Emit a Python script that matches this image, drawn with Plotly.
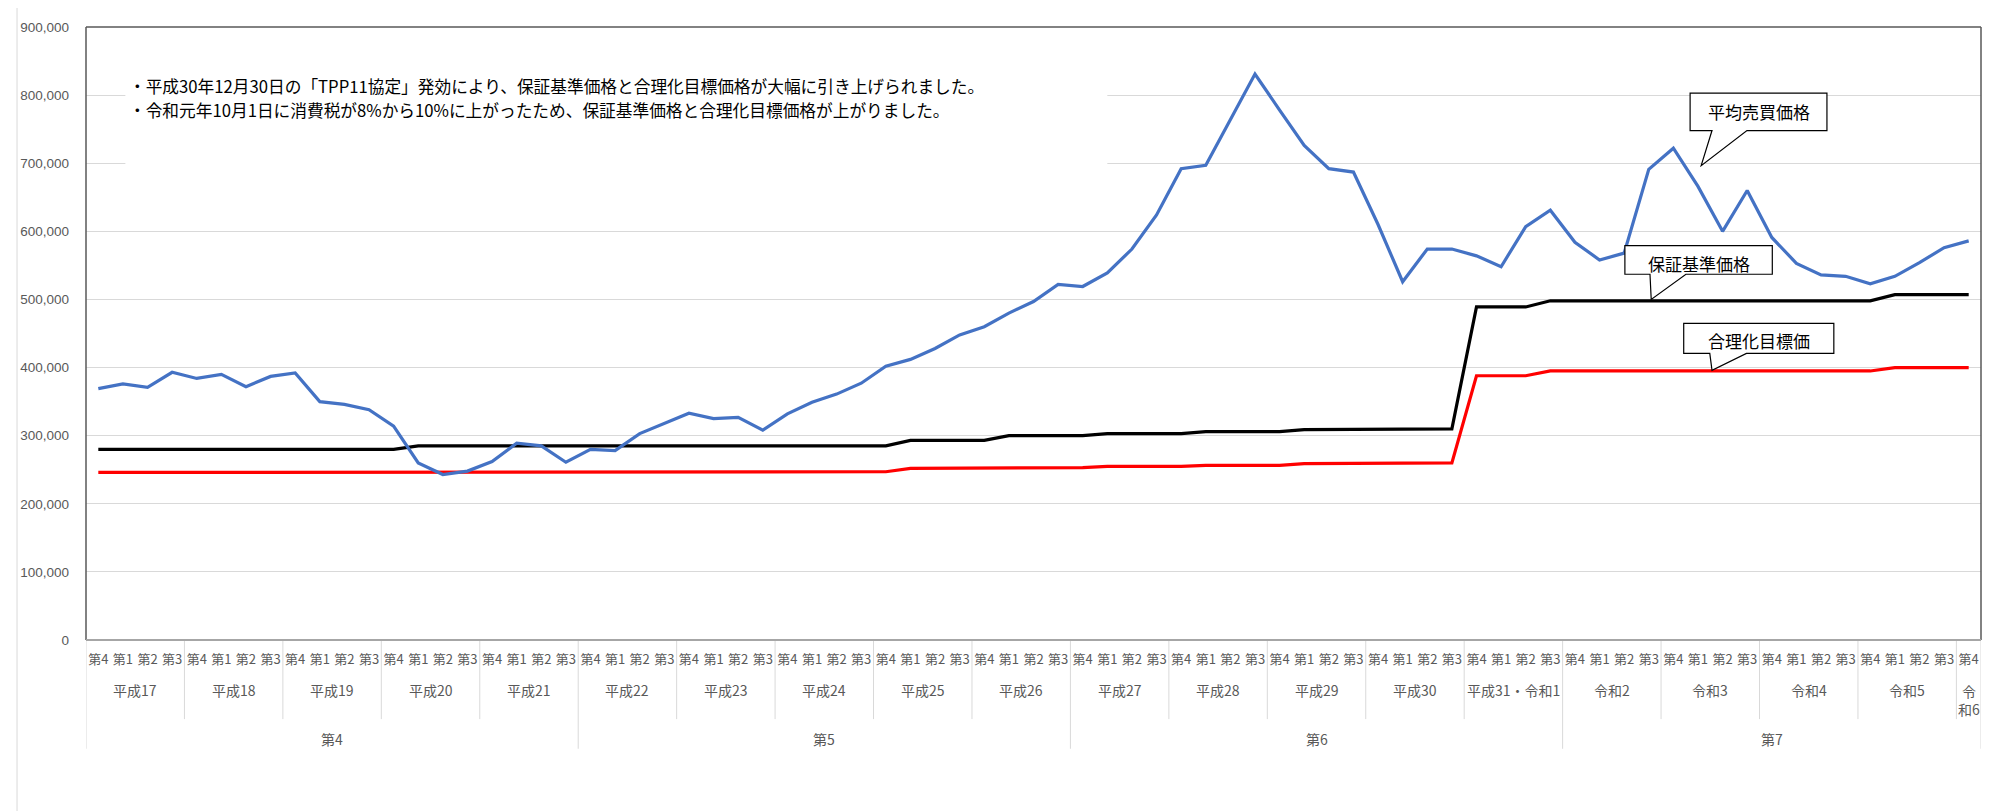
import plotly.graph_objects as go

# ---------------- data ----------------
year_labels = ["平成17", "平成18", "平成19", "平成20", "平成21", "平成22", "平成23",
               "平成24", "平成25", "平成26", "平成27", "平成28", "平成29", "平成30",
               "平成31・令和1", "令和2", "令和3", "令和4", "令和5", "令和6"]
quarters_in_year = [4, 4, 4, 4, 4, 4, 4, 4, 4, 4, 4, 4, 4, 4, 4, 4, 4, 4, 4, 1]
quarter_names = ["第4", "第1", "第2", "第3"]
period_labels = ["第4", "第5", "第6", "第7"]
years_in_period = [5, 5, 5, 5]

avg_price = [369000, 376000, 371000, 393000, 384000, 390000, 372000, 387000, 392000, 350000,
             346000, 338000, 314000, 260000, 243000, 248000, 262000, 289000, 285000, 261000,
             280000, 278000, 303000, 318000, 333000, 325000, 327000, 308000, 332000, 349000,
             361000, 377000, 402000, 412000, 428000, 448000, 460000, 480000, 497000, 522000,
             519000, 539000, 574000, 624000, 692000, 697000, 764000, 831000, 778000, 726000,
             692000, 687000, 610000, 526000, 574000, 574000, 564000, 548000, 607000, 631000,
             584000, 558000, 568000, 691000, 722000, 666000, 600000, 660000, 591000, 553000,
             536000, 534000, 523000, 534000, 554000, 576000, 586000]

guarantee_price = [280000, 280000, 280000, 280000, 280000, 280000, 280000, 280000, 280000, 280000,
                   280000, 280000, 280000, 285000, 285000, 285000, 285000, 285000, 285000, 285000,
                   285000, 285000, 285000, 285000, 285000, 285000, 285000, 285000, 285000, 285000,
                   285000, 285000, 285000, 293000, 293000, 293000, 293000, 300000, 300000, 300000,
                   300000, 303000, 303000, 303000, 303000, 306000, 306000, 306000, 306000, 309000,
                   309000, 309000, 309000, 310000, 310000, 310000, 489000, 489000, 489000, 498000,
                   498000, 498000, 498000, 498000, 498000, 498000, 498000, 498000, 498000, 498000,
                   498000, 498000, 498000, 507000, 507000, 507000, 507000]

target_price = [246000, 246000, 246000, 246000, 246000, 246000, 246000, 246000, 246000, 246000,
                246000, 246000, 246000, 247000, 247000, 247000, 247000, 247000, 247000, 247000,
                247000, 247000, 247000, 247000, 247000, 247000, 247000, 247000, 247000, 247000,
                247000, 247000, 247000, 252000, 252000, 252000, 252000, 253000, 253000, 253000,
                253000, 255000, 255000, 255000, 255000, 256500, 256500, 256500, 256500, 259000,
                259000, 259000, 259000, 260000, 260000, 260000, 388000, 388000, 388000, 395000,
                395000, 395000, 395000, 395000, 395000, 395000, 395000, 395000, 395000, 395000,
                395000, 395000, 395000, 400000, 400000, 400000, 400000]

note_lines = ["・平成30年12月30日の「TPP11協定」発効により、保証基準価格と合理化目標価格が大幅に引き上げられました。",
              "・令和元年10月1日に消費税が8%から10%に上がったため、保証基準価格と合理化目標価格が上がりました。"]

# ---------------- category structure ----------------
quarter_labels = []
year_spans = []
for yl, nq in zip(year_labels, quarters_in_year):
    start = len(quarter_labels)
    quarter_labels.extend(quarter_names[:nq])
    year_spans.append((start, len(quarter_labels) - 1))
xs = list(range(len(quarter_labels)))

period_spans = []
yi = 0
for n in years_in_period:
    period_spans.append((year_spans[yi][0], year_spans[yi + n - 1][1]))
    yi += n

# ---------------- figure ----------------
W, H = 1990, 811
ML, MR, MT, MB = 77, 17, 12, 179
PH = H - MT - MB
PLOT_BOTTOM = H - MB


def py(p):
    """pixel row below the plot -> paper y"""
    return (PLOT_BOTTOM - p) / PH


CJK = "Noto Sans CJK JP"
GRAY = "#595959"

fig = go.Figure()
fig.add_trace(go.Scatter(x=xs, y=guarantee_price, mode="lines", name="保証基準価格",
                         line=dict(color="#000000", width=3.2)))
fig.add_trace(go.Scatter(x=xs, y=target_price, mode="lines", name="合理化目標価格",
                         line=dict(color="#FF0000", width=3.2)))
fig.add_trace(go.Scatter(x=xs, y=avg_price, mode="lines", name="平均売買価格",
                         line=dict(color="#4472C4", width=3.2)))

shapes = []
# white note box covering gridlines
shapes.append(dict(type="rect", xref="x", yref="y", x0=1.1, x1=41.0, y0=671000, y1=867000,
                   fillcolor="white", line=dict(width=0), layer="between"))
# plot borders
for (x0, y0, x1, y1) in [(0, 0, 0, 1), (0, 1, 1, 1), (1, 0, 1, 1)]:
    shapes.append(dict(type="line", xref="paper", yref="paper", x0=x0, y0=y0, x1=x1, y1=y1,
                       line=dict(color="#595959", width=1.5)))
# year separators
period_bounds = set()
for s, e in period_spans:
    period_bounds.add(s - 0.5)
    period_bounds.add(e + 0.5)
for s, e in year_spans:
    b = e + 0.5
    if b not in period_bounds:
        shapes.append(dict(type="line", xref="x", yref="paper", x0=b, x1=b, y0=0, y1=py(712),
                           line=dict(color="#D9D9D9", width=1)))
for b in sorted(period_bounds):
    shapes.append(dict(type="line", xref="x", yref="paper", x0=b, x1=b, y0=0, y1=py(742),
                       line=dict(color="#D9D9D9", width=1)))
# bottom axis line
shapes.append(dict(type="line", xref="paper", yref="paper", x0=0, x1=1, y0=0, y1=0,
                   line=dict(color="#A6A6A6", width=2)))
# outer chart border
for px in (8, 1983):
    xp = (px - ML) / (W - ML - MR)
    shapes.append(dict(type="line", xref="paper", yref="paper", x0=xp, x1=xp, y0=-0.4, y1=1.1,
                       line=dict(color="#D9D9D9", width=1)))


def callout(bx0, bx1, ytop, ybot, tb0, tb1, tipx, tipy):
    path = (f"M {bx0},{ytop} L {bx1},{ytop} L {bx1},{ybot} L {tb1},{ybot} "
            f"L {tipx},{tipy} L {tb0},{ybot} L {bx0},{ybot} Z")
    return dict(type="path", xref="x", yref="y", path=path, fillcolor="white",
                line=dict(color="#000000", width=1.2), layer="above")


shapes.append(callout(64.68, 70.24, 803000, 748000, 65.57, 66.99, 65.13, 696500))
shapes.append(callout(62.03, 68.02, 579000, 537000, 63.05, 64.51, 63.10, 500000))
shapes.append(callout(64.42, 70.52, 464900, 420800, 65.48, 66.97, 65.57, 396000))

annotations = []
annotations.append(dict(x=67.46, y=776000, xref="x", yref="y", text="平均売買価格", showarrow=False,
                        font=dict(family=CJK, size=17, color="#000000")))
annotations.append(dict(x=65.03, y=553000, xref="x", yref="y", text="保証基準価格", showarrow=False,
                        font=dict(family=CJK, size=17, color="#000000")))
annotations.append(dict(x=67.49, y=439000, xref="x", yref="y", text="合理化目標価", showarrow=False,
                        font=dict(family=CJK, size=17, color="#000000")))

# note text
for line, yv in zip(note_lines, [813000, 778500]):
    annotations.append(dict(x=1.18, y=yv, xref="x", yref="y", text=line, showarrow=False,
                            xanchor="left", yanchor="middle",
                            font=dict(family=CJK, size=16.7, color="#000000")))

# year labels
for yl, (s, e) in zip(year_labels, year_spans):
    if s == e:
        annotations.append(dict(x=s, y=py(692.5), xref="x", yref="paper",
                                text="<br>".join([yl[:1], yl[1:]]), showarrow=False,
                                yanchor="middle", font=dict(family=CJK, size=14, color=GRAY)))
    else:
        annotations.append(dict(x=(s + e) / 2, y=py(682.5), xref="x", yref="paper", text=yl,
                                showarrow=False, yanchor="middle",
                                font=dict(family=CJK, size=14, color=GRAY)))
# period labels
for pl, (s, e) in zip(period_labels, period_spans):
    annotations.append(dict(x=(s + e) / 2, y=py(732.5), xref="x", yref="paper", text=pl,
                            showarrow=False, yanchor="middle",
                            font=dict(family=CJK, size=14, color=GRAY)))

fig.update_layout(
    width=W, height=H,
    margin=dict(l=ML, r=MR, t=MT, b=MB, pad=0),
    paper_bgcolor="white", plot_bgcolor="white",
    showlegend=False,
    shapes=shapes, annotations=annotations,
    xaxis=dict(range=[-0.5, len(xs) - 0.5], tickmode="array", tickvals=xs, ticktext=quarter_labels,
               tickangle=0, showgrid=False, zeroline=False, showline=False, ticks="",
               ticklabelstandoff=10,
               tickfont=dict(family=CJK, size=13, color=GRAY)),
    yaxis=dict(range=[0, 900000], dtick=100000, tickformat=",", showgrid=True,
               gridcolor="#D9D9D9", gridwidth=1, zeroline=False, showline=False, ticks="",
               ticklabelstandoff=16,
               tickfont=dict(family="Liberation Sans", size=13.5, color=GRAY)),
)

fig.write_html("out.html")
